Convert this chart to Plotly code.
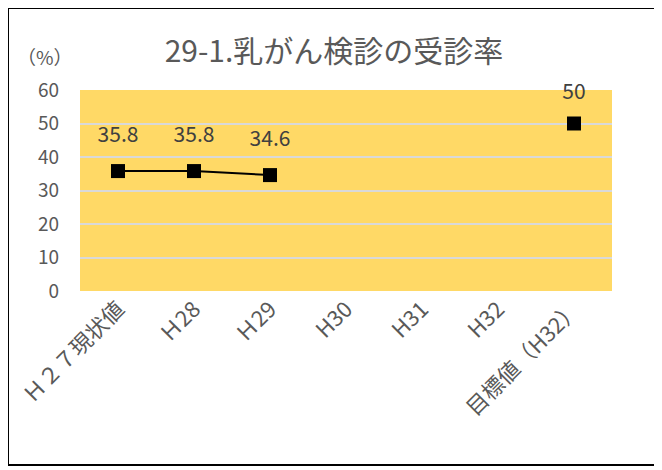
import plotly.graph_objects as go

categories = ["Ｈ２７現状値", "Ｈ28", "Ｈ29", "H30", "H31", "H32", "目標値（H32）"]
actual_values = [35.8, 35.8, 34.6, None, None, None, None]
target_values = [None, None, None, None, None, None, 50]
y_ticks = [0, 10, 20, 30, 40, 50, 60]

FONT = "Noto Sans CJK JP"
GREY = "#595959"
OFF = 8  # browser body margin offset

# plot area in screenshot pixels
PL, PR, PT, PB = 80, 612, 90, 291
W, H = 662, 470

def labels(vals):
    return ["" if v is None else f"{v:g}" for v in vals]

def px(x):
    return (x - PL) / (PR - PL)

def py(y):
    return (PB - y) / (PB - PT)

fig = go.Figure()
fig.add_trace(go.Scatter(
    x=categories, y=actual_values, mode="lines+markers",
    line=dict(color="black", width=2),
    marker=dict(symbol="square", size=14, color="black"),
    connectgaps=False, showlegend=False, cliponaxis=False,
))
fig.add_trace(go.Scatter(
    x=categories, y=target_values, mode="markers",
    marker=dict(symbol="square", size=14, color="black"),
    showlegend=False, cliponaxis=False,
))
# data labels (transparent large marker used only to offset text)
for vals, lab_size in ((actual_values, 36), (target_values, 30)):
    fig.add_trace(go.Scatter(
        x=categories, y=vals, mode="markers+text",
        marker=dict(size=lab_size, color="rgba(0,0,0,0)"),
        text=labels(vals), textposition="top center",
        textfont=dict(family=FONT, size=21, color="#404040"),
        showlegend=False, cliponaxis=False, hoverinfo="skip",
    ))

fig.update_layout(
    width=W, height=H,
    margin=dict(l=PL - OFF, r=W - (PR - OFF), t=PT - OFF, b=H - (PB - OFF)),
    paper_bgcolor="white", plot_bgcolor="#FFD966",
    font=dict(family=FONT, color=GREY),
    title=dict(text="29-1.乳がん検診の受診率", x=(334 - OFF) / W, xanchor="center",
               y=1 - (51 - OFF) / H, yanchor="middle",
               font=dict(family=FONT, size=30, color=GREY)),
    xaxis=dict(type="category", categoryorder="array", categoryarray=categories,
               range=[-0.5, 6.5], tickangle=-45, showgrid=False, zeroline=False,
               showline=False, ticks="", automargin=False,
               tickfont=dict(family=FONT, size=22, color=GREY)),
    yaxis=dict(range=[0, 60], tickvals=y_ticks, showgrid=True,
               gridcolor="#D9D9D9", gridwidth=2, zeroline=False,
               showline=False, ticks="", ticklabelstandoff=20, automargin=False,
               tickfont=dict(family=FONT, size=19, color=GREY)),
    annotations=[dict(text="（%）", xref="paper", yref="paper",
                      x=px(45), y=py(57),
                      xanchor="center", yanchor="middle", showarrow=False,
                      font=dict(family=FONT, size=19, color=GREY))],
    shapes=[dict(type="rect", xref="paper", yref="paper",
                 x0=px(8), x1=px(656),
                 y0=py(465), y1=py(8),
                 line=dict(color="black", width=2), fillcolor="rgba(0,0,0,0)",
                 layer="below")],
)

fig.write_html("out.html")
